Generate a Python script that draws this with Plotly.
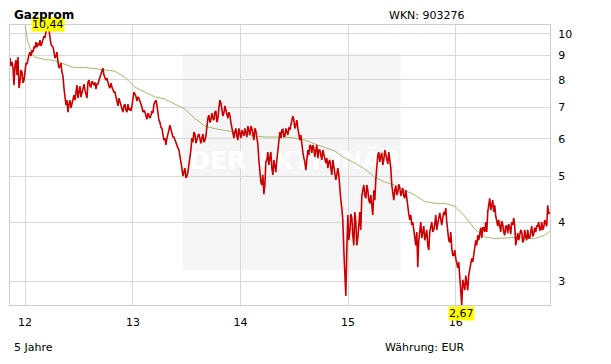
import numpy as np
import pandas as pd
import plotly.graph_objects as go

# ---- data ----
title = "Gazprom"
wkn_text = "WKN: 903276"
period_text = "5 Jahre"
currency_text = "Währung: EUR"

price_start = "2011-11-11"
price_end = "2016-11-15"
# closing prices read at every second pixel column (a) and at the columns in between (b)
price_a = [
    8.89, 8.72, 7.79, 8.80, 8.93, 7.90, 8.30, 7.98, 8.67, 8.89,
    9.15, 9.24, 9.37, 9.60, 9.51, 9.70, 9.56, 9.89, 10.13, 10.44,
    9.80, 9.42, 9.15, 8.97, 8.72, 8.55, 8.30, 7.68, 7.07, 6.83,
    7.24, 7.14, 7.42, 7.60, 7.31, 7.75, 7.53, 7.83, 7.42, 7.90,
    7.75, 7.94, 7.79, 7.64, 7.83, 8.10, 8.38, 8.18, 7.98, 7.83,
    7.68, 7.72, 7.53, 7.31, 7.04, 7.17, 6.90, 7.04, 6.90, 7.10,
    6.97, 7.04, 7.53, 7.38, 7.35, 7.21, 7.00, 6.90, 6.70, 6.80,
    6.63, 6.87, 7.10, 7.24, 6.73, 6.50, 6.31, 5.96, 5.82, 6.20,
    6.41, 6.20, 6.05, 5.87, 5.74, 5.54, 5.20, 5.10, 4.96, 5.10,
    5.36, 6.02, 6.20, 5.87, 6.08, 5.93, 6.02, 5.90, 6.08, 6.63,
    6.50, 6.80, 6.57, 6.87, 6.63, 7.24, 6.97, 6.80, 6.90, 6.63,
    6.73, 6.31, 6.02, 6.31, 5.96, 6.20, 6.26, 6.08, 6.20, 6.38,
    6.11, 6.31, 5.96, 6.23, 5.85, 5.03, 4.79, 4.58, 5.36, 5.62,
    5.46, 5.20, 5.41, 5.10, 5.68, 6.20, 6.26, 6.05, 6.31, 6.11,
    6.26, 6.63, 6.57, 6.41, 6.31, 5.96, 5.74, 5.46, 5.15, 5.68,
    5.82, 5.60, 5.74, 5.62, 5.46, 5.68, 5.41, 5.54, 5.33, 5.20,
    5.41, 5.03, 5.20, 4.91, 5.20, 4.63, 4.28, 3.49, 2.79, 4.14,
    3.81, 4.08, 3.57, 4.00, 3.70, 4.20, 4.54, 4.79, 4.49, 4.67,
    4.38, 4.28, 4.67, 4.91, 5.54, 5.36, 5.60, 5.41, 5.54, 5.31,
    5.46, 4.79, 4.45, 4.77, 4.63, 4.72, 4.63, 4.54, 4.67, 4.24,
    4.04, 3.94, 3.85, 3.57, 3.21, 3.89, 3.70, 3.92, 3.75, 3.57,
    3.81, 4.00, 3.85, 4.14, 4.00, 4.18, 3.94, 4.20, 4.28, 3.75,
    3.62, 3.52, 3.40, 3.35, 3.20, 3.09, 2.67, 2.94, 3.08, 2.87,
    3.20, 3.35, 3.40, 3.66, 3.75, 3.81, 3.70, 3.89, 4.00, 4.20,
    4.49, 4.38, 4.20, 4.12, 3.92, 3.89, 4.02, 3.81, 3.92, 3.79,
    3.89, 4.00, 4.08, 3.57, 3.79, 3.73, 3.81, 3.66, 3.73, 3.85,
    3.70, 3.92, 3.77, 3.81, 3.92, 3.85, 4.00, 3.89, 3.96, 4.34,
    4.20,
]
price_b = [
    8.55, 8.46, 8.59, 8.18, 7.68, 8.38, 7.87, 8.38, 8.63, 9.02,
    8.97, 9.15, 9.33, 9.37, 9.46, 9.42, 9.70, 9.80, 10.18, 10.18,
    9.51, 9.37, 8.89, 9.15, 8.46, 8.67, 8.14, 7.38, 7.24, 7.10,
    6.97, 7.31, 7.24, 7.79, 7.60, 7.35, 7.68, 7.60, 7.31, 7.98,
    7.72, 7.83, 7.90, 7.83, 7.98, 8.22, 8.46, 8.06, 8.06, 7.75,
    7.87, 7.60, 7.53, 7.24, 7.31, 7.00, 6.83, 7.10, 6.83, 6.90,
    6.87, 7.31, 7.46, 7.21, 7.31, 7.14, 6.83, 6.83, 6.60, 6.70,
    6.73, 6.80, 7.17, 7.07, 6.57, 6.34, 6.14, 6.02, 6.02, 6.26,
    6.31, 6.05, 5.96, 5.77, 5.68, 5.36, 5.00, 5.20, 5.00, 5.28,
    5.68, 5.90, 6.14, 5.99, 6.14, 5.87, 6.14, 5.96, 6.41, 6.73,
    6.57, 6.63, 6.83, 6.50, 6.97, 7.14, 6.70, 7.04, 6.77, 6.83,
    6.50, 6.14, 6.20, 6.08, 6.31, 6.02, 6.14, 6.31, 6.05, 6.26,
    6.38, 6.14, 6.31, 6.02, 5.41, 4.86, 5.03, 4.79, 5.41, 5.28,
    5.62, 5.03, 5.28, 5.41, 5.96, 6.02, 6.28, 6.08, 6.20, 6.34,
    6.41, 6.70, 6.31, 6.57, 6.14, 6.11, 5.62, 5.36, 5.46, 5.54,
    5.79, 5.82, 5.49, 5.82, 5.68, 5.49, 5.68, 5.41, 5.46, 5.36,
    5.20, 5.41, 5.10, 5.03, 5.03, 4.45, 4.04, 3.17, 3.49, 3.66,
    4.16, 3.75, 4.20, 3.57, 3.94, 3.85, 4.67, 4.56, 4.79, 4.45,
    4.56, 4.14, 4.45, 5.28, 5.62, 5.51, 5.28, 5.68, 5.46, 5.62,
    5.20, 4.56, 4.67, 4.56, 4.81, 4.54, 4.72, 4.49, 4.45, 4.16,
    4.14, 4.00, 3.66, 3.81, 3.66, 4.00, 3.85, 3.66, 3.85, 3.49,
    3.92, 3.81, 3.96, 3.85, 4.08, 4.00, 4.08, 4.14, 4.00, 3.66,
    3.81, 3.40, 3.49, 3.29, 3.29, 2.94, 3.02, 2.87, 2.94, 3.09,
    3.29, 3.29, 3.57, 3.57, 3.66, 3.89, 3.89, 3.81, 3.81, 4.34,
    4.24, 4.45, 4.34, 4.00, 4.04, 3.81, 3.96, 3.75, 3.92, 3.96,
    3.77, 3.94, 3.92, 3.73, 3.66, 3.85, 3.62, 3.85, 3.66, 3.70,
    3.85, 3.73, 3.89, 3.92, 4.00, 3.85, 3.85, 4.04, 3.92, 4.16,
]

ma_dates = [
    "2011-12-31", "2012-01-09", "2012-01-20", "2012-02-02", "2012-03-07",
    "2012-04-10", "2012-05-14", "2012-06-17", "2012-07-21", "2012-08-24",
    "2012-09-27", "2012-10-31", "2012-12-04", "2013-01-07", "2013-02-10",
    "2013-03-16", "2013-04-19", "2013-05-23", "2013-06-26", "2013-07-30",
    "2013-09-02", "2013-10-06", "2013-11-09", "2013-12-13", "2014-01-16",
    "2014-02-19", "2014-03-25", "2014-04-28", "2014-05-31", "2014-07-04",
    "2014-08-07", "2014-09-10", "2014-10-14", "2014-11-17", "2014-12-21",
    "2015-01-24", "2015-02-26", "2015-04-01", "2015-05-05", "2015-06-08",
    "2015-07-12", "2015-08-15", "2015-09-18", "2015-10-22", "2015-11-25",
    "2015-12-29", "2016-01-31", "2016-03-05", "2016-04-08", "2016-05-12",
    "2016-06-15", "2016-07-19", "2016-08-22", "2016-09-25", "2016-10-29",
    "2016-11-15",
]
ma_values = [
    10.60, 9.70, 9.24, 8.93, 8.83, 8.78, 8.63, 8.48, 8.49, 8.44,
    8.38, 8.34, 8.10, 7.72, 7.53, 7.36, 7.28, 7.11, 6.93, 6.63,
    6.38, 6.30, 6.26, 6.20, 6.14, 6.08, 6.05, 6.05, 6.05, 6.02,
    5.96, 5.85, 5.76, 5.65, 5.46, 5.33, 5.18, 4.98, 4.86, 4.79,
    4.67, 4.56, 4.42, 4.38, 4.38, 4.32, 4.12, 3.87, 3.72, 3.69,
    3.70, 3.71, 3.70, 3.69, 3.75, 3.82,
]

year_ticks = ["2012-01-01", "2013-01-01", "2014-01-01", "2015-01-01", "2016-01-01"]
year_labels = ["12", "13", "14", "15", "16"]
y_ticks = [3, 4, 5, 6, 7, 8, 9, 10]
y_labels = ["3", "4", "5", "6", "7", "8", "9", "10"]

watermark_text = "DER AKTIONÄR"
watermark_date = "2014-07-05"
watermark_value = 5.33
watermark_box = ("2013-06-19", "2015-06-28", 3.17, 9.10)

# ---- figure ----
price = []
for a, b in zip(price_a, price_b):
    price.extend([a, b])
price.append(price_a[-1])

dates = pd.date_range(price_start, price_end, periods=len(price))
price_arr = np.array(price)
imax = int(np.argmax(price_arr))
imin = int(np.argmin(price_arr))

FONT = "DejaVu Sans"
fig = go.Figure()

# watermark text (below the lines)
fig.add_trace(go.Scatter(
    x=[watermark_date], y=[watermark_value], mode="text",
    text=[watermark_text],
    textfont=dict(family=FONT, size=25, color="white", weight="bold"),
    hoverinfo="skip", showlegend=False,
))

fig.add_trace(go.Scatter(
    x=pd.to_datetime(ma_dates), y=ma_values, mode="lines",
    line=dict(color="#a6b86e", width=1), showlegend=False, hoverinfo="skip",
))
fig.add_trace(go.Scatter(
    x=dates, y=price, mode="lines",
    line=dict(color="#cc0000", width=1.6), showlegend=False, hoverinfo="skip",
))

fig.add_shape(
    type="rect", xref="x", yref="y",
    x0=watermark_box[0], x1=watermark_box[1],
    y0=watermark_box[2], y1=watermark_box[3],
    fillcolor="#f5f5f5", line=dict(width=0), layer="below",
)

fig.add_annotation(
    x=dates[imax], y=np.log10(price[imax]), xref="x", yref="y",
    text=f"{price[imax]:.2f}".replace(".", ","), showarrow=False,
    bgcolor="#ffff00", borderpad=0, yshift=1,
    font=dict(family=FONT, size=11, color="black"),
)
fig.add_annotation(
    x=dates[imin], y=np.log10(price[imin]), xref="x", yref="y",
    text=f"{price[imin]:.2f}".replace(".", ","), showarrow=False,
    bgcolor="#ffff00", borderpad=0, yanchor="top", yshift=-1,
    font=dict(family=FONT, size=11, color="black"),
)

L, R, T, B = 10, 61, 25, 59
W, H = 611, 364
pw, ph = W - L - R, H - T - B

def px(xp):
    return (xp - L) / pw

def py(yp):
    return (H - B - yp) / ph

fig.add_annotation(x=px(12), y=py(15), xref="paper", yref="paper",
                   text=f"<b>{title}</b>", showarrow=False,
                   xanchor="left", yanchor="middle",
                   font=dict(family=FONT, size=12, color="black"))
fig.add_annotation(x=px(467), y=py(15.5), xref="paper", yref="paper",
                   text=wkn_text, showarrow=False,
                   xanchor="right", yanchor="middle",
                   font=dict(family=FONT, size=11, color="black"))
fig.add_annotation(x=px(12), y=py(347), xref="paper", yref="paper",
                   text=period_text, showarrow=False,
                   xanchor="left", yanchor="middle",
                   font=dict(family=FONT, size=11, color="black"))
fig.add_annotation(x=px(467), y=py(347), xref="paper", yref="paper",
                   text=currency_text, showarrow=False,
                   xanchor="right", yanchor="middle",
                   font=dict(family=FONT, size=11, color="black"))

fig.update_layout(
    width=W, height=H,
    margin=dict(l=L, r=R, t=T, b=B),
    paper_bgcolor="white", plot_bgcolor="white",
    showlegend=False,
    font=dict(family=FONT, size=11, color="black"),
    xaxis=dict(
        type="date", range=["2011-11-11", "2016-11-16"],
        tickmode="array", tickvals=year_ticks, ticktext=year_labels,
        showgrid=True, gridcolor="#d8d8d8", gridwidth=1,
        showline=True, linecolor="#cccccc", linewidth=1, mirror=True,
        ticks="", zeroline=False, ticklabelstandoff=7,
        tickfont=dict(family=FONT, size=11, color="black"),
    ),
    yaxis=dict(
        type="log", range=[np.log10(2.67), np.log10(10.44)],
        tickmode="array", tickvals=y_ticks, ticktext=y_labels,
        side="right",
        showgrid=True, gridcolor="#d8d8d8", gridwidth=1,
        showline=True, linecolor="#cccccc", linewidth=1, mirror=True,
        ticks="", zeroline=False, ticklabelstandoff=5,
        tickfont=dict(family=FONT, size=11, color="black"),
    ),
)

fig.write_html("out.html")
